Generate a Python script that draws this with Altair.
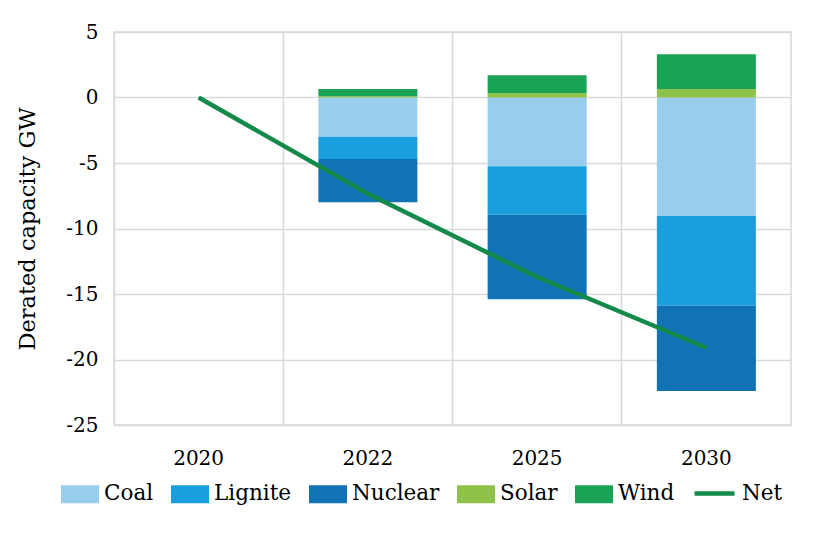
import altair as alt
import pandas as pd

years = ["2020", "2022", "2025", "2030"]
series = ["Coal", "Lignite", "Nuclear", "Solar", "Wind"]
coal = [0.0, -3.0, -5.25, -9.05]
lignite = [0.0, -1.7, -3.7, -6.85]
nuclear = [0.0, -3.3, -6.45, -6.5]
solar = [0.0, 0.1, 0.35, 0.65]
wind = [0.0, 0.55, 1.35, 2.65]
net = [0.0, -7.35, -13.7, -19.1]

colors = ["#99cdee", "#1b9ede", "#1172b6", "#8fc24a", "#1aa356"]
net_color = "#138a4a"
FONT = "DejaVu Serif"

vals = {"Coal": coal, "Lignite": lignite, "Nuclear": nuclear, "Solar": solar, "Wind": wind}
rows = []
for si, s in enumerate(series):
    for yi, y in enumerate(years):
        rows.append({"year": y, "series": s, "value": vals[s][yi], "order": si})
bars_df = pd.DataFrame(rows)
net_df = pd.DataFrame({"year": years, "net": net, "label": ["Net"] * len(years)})

x_enc = alt.X("year:O", title=None, sort=years,
              scale=alt.Scale(paddingInner=0, paddingOuter=0),
              axis=alt.Axis(labelAngle=0, grid=True, bandPosition=0, ticks=False,
                            domain=False, labelPadding=23))

bars = alt.Chart(bars_df).mark_bar(width=alt.RelativeBandSize(0.585)).encode(
    x=x_enc,
    y=alt.Y("value:Q", title="Derated capacity GW", stack="zero",
            scale=alt.Scale(domain=[-25, 5], nice=False),
            axis=alt.Axis(values=list(range(-25, 6, 5)), ticks=False, domain=False,
                          labelExpr="'' + datum.value",
                          labelPadding=16, titlePadding=26)),
    color=alt.Color("series:N", sort=series,
                    scale=alt.Scale(domain=series, range=colors),
                    legend=alt.Legend(title=None, orient="none", direction="horizontal",
                                      legendX=-53, legendY=443,
                                      symbolType="M-1,-0.48H1V0.48H-1Z",
                                      symbolSize=1444, symbolStrokeWidth=0,
                                      columnPadding=17, labelOffset=5)),
    order=alt.Order("order:Q"),
)

line = alt.Chart(net_df).mark_line(strokeWidth=4.5).encode(
    x=alt.X("year:O", sort=years),
    y=alt.Y("net:Q"),
    stroke=alt.Stroke("label:N", scale=alt.Scale(domain=["Net"], range=[net_color]),
                      legend=alt.Legend(title=None, orient="none", legendX=578, legendY=439,
                                        symbolType="stroke", symbolStrokeWidth=4.5,
                                        symbolSize=1600, labelOffset=5)),
)

chart = alt.layer(bars, line).resolve_scale(color="independent", stroke="independent").properties(
    width=677, height=393, padding={"top": 14, "left": 8, "right": 10, "bottom": 5}
).configure_view(stroke="#d9d9d9", strokeWidth=1.5).configure_axis(
    labelFont=FONT, titleFont=FONT, labelFontSize=20, titleFontSize=22.5,
    labelColor="#000000", titleColor="#000000", titleFontWeight="normal",
    gridColor="#d9d9d9", gridWidth=1.5
).configure_legend(
    labelFont=FONT, labelFontSize=21.5, labelColor="#000000"
)

chart.save("out.html", embed_options={"renderer": "svg", "actions": False})
